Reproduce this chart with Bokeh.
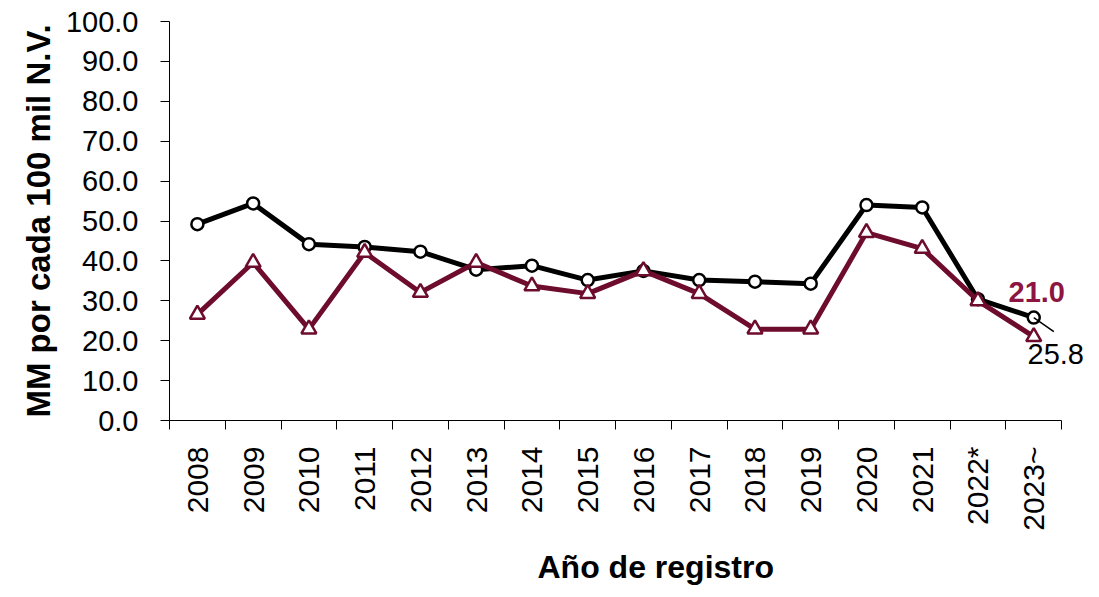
import math
from bokeh.plotting import figure
from bokeh.models import Range1d, FixedTicker, PrintfTickFormatter, ColumnDataSource, Label, Title
from bokeh.embed import file_html
from bokeh.resources import INLINE

years = ["2008", "2009", "2010", "2011", "2012", "2013", "2014", "2015",
         "2016", "2017", "2018", "2019", "2020", "2021", "2022*", "2023~"]
black_vals = [49.2, 54.4, 44.2, 43.5, 42.3, 37.8, 38.8, 35.2,
              37.5, 35.2, 34.8, 34.3, 54.0, 53.4, 30.4, 25.8]
red_vals = [26.6, 39.6, 22.9, 42.1, 32.1, 39.6, 33.7, 31.8,
            37.5, 31.8, 22.9, 22.9, 47.1, 43.1, 30.0, 21.0]
y_ticks = [0, 10, 20, 30, 40, 50, 60, 70, 80, 90, 100]
x_title = "Año de registro"
y_title = "MM por cada 100 mil N.V."

FONT = "Liberation Sans"
BLACK = "#000000"
MAROON = "#6E0C2D"
MAROON_LABEL = "#8C1641"

xs = list(range(len(years)))
last = len(years) - 1

# frame extends a little past the last category so the end labels are not clipped;
# the x axis itself is bounded to the categories
p = figure(width=1089, height=597, output_backend="svg", toolbar_location=None,
           x_range=Range1d(-0.5, len(years)), y_range=Range1d(0, 100),
           min_border_left=169, min_border_right=0, min_border_top=21,
           min_border_bottom=177)
p.outline_line_color = None
p.xgrid.grid_line_color = None
p.ygrid.grid_line_color = None
p.background_fill_color = "white"
p.border_fill_color = "white"

# Y axis
p.yaxis.ticker = FixedTicker(ticks=y_ticks, minor_ticks=[])
p.yaxis.formatter = PrintfTickFormatter(format="%.1f")
p.yaxis.major_tick_out = 9
p.yaxis.major_tick_in = 0
p.yaxis.minor_tick_out = 0
p.yaxis.minor_tick_in = 0
p.yaxis.major_label_standoff = 22
p.yaxis.major_label_text_font = FONT
p.yaxis.major_label_text_font_size = "29px"
p.yaxis.major_label_text_color = BLACK
p.yaxis.axis_label = y_title
p.yaxis.axis_label_text_font = FONT
p.yaxis.axis_label_text_font_size = "33px"
p.yaxis.axis_label_text_font_style = "bold"
p.yaxis.axis_label_text_color = BLACK
p.yaxis.axis_label_standoff = 6
p.yaxis.axis_line_color = BLACK
p.yaxis.major_tick_line_color = BLACK

# X axis: labels at category centres, tick marks at category boundaries
p.xaxis.bounds = (-0.5, len(years) - 0.5)
p.xaxis.ticker = FixedTicker(ticks=xs, minor_ticks=[i - 0.5 for i in range(len(years) + 1)])
p.xaxis.major_label_overrides = {i: y for i, y in enumerate(years)}
p.xaxis.major_tick_out = 0
p.xaxis.major_tick_in = 0
p.xaxis.minor_tick_out = 9
p.xaxis.minor_tick_in = 0
p.xaxis.minor_tick_line_color = BLACK
p.xaxis.major_label_orientation = math.pi / 2
p.xaxis.major_label_standoff = 17
p.xaxis.major_label_text_font = FONT
p.xaxis.major_label_text_font_size = "30px"
p.xaxis.major_label_text_color = BLACK
p.xaxis.axis_line_color = BLACK

# x-axis title, placed like the original (right of the frame centre)
p.add_layout(Title(text=x_title, align="left", offset=368, standoff=26,
                   text_font=FONT, text_font_size="32px", text_font_style="bold",
                   text_color=BLACK), "below")

src = ColumnDataSource(dict(x=xs, black=black_vals, red=red_vals))

# black series
p.line("x", "black", source=src, line_color=BLACK, line_width=5)
p.scatter("x", "black", source=src, marker="circle", size=12,
          fill_color="white", line_color=BLACK, line_width=2.5)

# leader line for last black value
lead = ColumnDataSource(dict(x0=[xs[last]], y0=[black_vals[last]],
                             x1=[xs[last] + 0.36], y1=[black_vals[last] - 3.5]))
p.segment("x0", "y0", "x1", "y1", source=lead, line_color=BLACK, line_width=1.5)

# maroon series
p.line("x", "red", source=src, line_color=MAROON, line_width=5)
p.scatter("x", "red", source=src, marker="triangle", size=15,
          fill_color="white", line_color=MAROON, line_width=2.5)

# data labels for last values
p.add_layout(Label(x=xs[last], y=red_vals[last], text="%.1f" % red_vals[last],
                   x_offset=3, y_offset=45, text_align="center", text_baseline="middle",
                   text_font=FONT, text_font_size="29px", text_font_style="bold",
                   text_color=MAROON_LABEL))
p.add_layout(Label(x=xs[last], y=black_vals[last], text="%.1f" % black_vals[last],
                   x_offset=22, y_offset=-36, text_align="center", text_baseline="middle",
                   text_font=FONT, text_font_size="29px", text_color=BLACK))

open("out.html", "w").write(file_html(p, INLINE))
